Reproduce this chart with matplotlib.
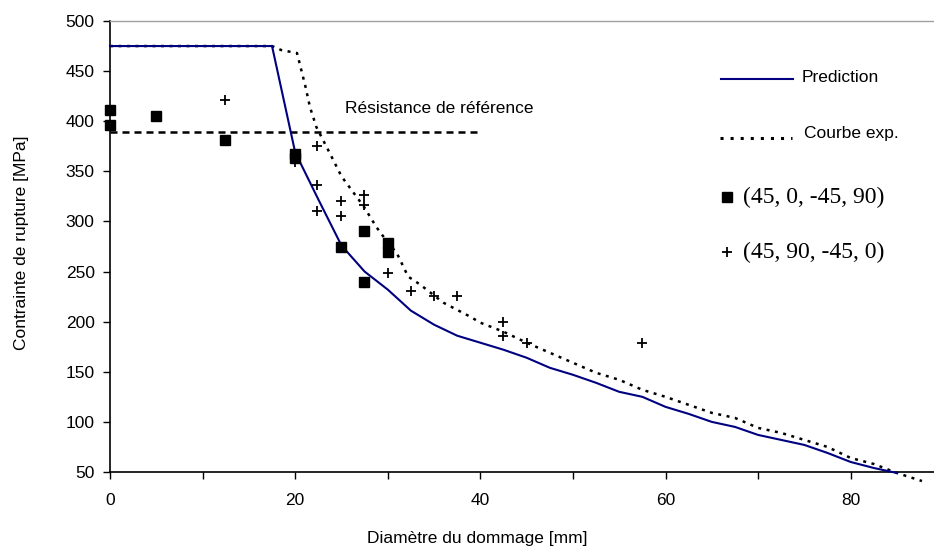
import matplotlib
matplotlib.use("Agg")
import matplotlib.pyplot as plt
from matplotlib.lines import Line2D

plt.rcParams['font.family'] = ['Liberation Sans', 'DejaVu Sans']

# Prediction (model)
pred_x = [0, 17.5, 20, 22.5, 25, 27.5, 30, 32.5, 35, 37.5, 40, 42.5, 45, 47.5, 50,
          52.5, 55, 57.5, 60, 62.5, 65, 67.5, 70, 72.5, 75, 77.5, 80, 82.5, 85]
pred_y = [475, 475, 369, 322, 276, 250, 232, 211, 197, 186, 179, 172, 164, 154, 147,
          139, 130, 125, 115, 108, 100, 95, 87, 82, 77, 69, 60, 54, 49]

# Courbe expérimentale
exp_x = [0, 17.5, 18.5, 20.2, 20.5, 21.1, 21.6, 22.3, 23.8, 25, 26.6, 27.4, 28.8, 30,
         31, 32.2, 33.5, 36, 38.9, 40, 42.5, 45, 47.5, 50, 52.5, 55, 57.5, 60, 62.5,
         65, 67.5, 70, 72.5, 75, 77.5, 80, 82.5, 85, 87.7]
exp_y = [475, 475, 471, 468, 457, 435, 414, 394, 367, 345, 325, 315, 294, 279,
         268, 245, 237, 219, 205, 199, 190, 179, 169, 159, 149, 142, 132, 125, 117,
         109, 104, 94, 89, 82, 75, 64, 58, 49, 41]

# Résistance de référence
ref_x = [0, 40]
ref_y = [389, 389]

# (45, 0, -45, 90)
sq_x = [0, 0, 5, 12.4, 20, 20, 25, 27.4, 27.4, 30, 30]
sq_y = [411, 396, 405, 381, 367, 363, 275, 290, 240, 278, 270]

# (45, 90, -45, 0)
pl_x = [12.4, 22.4, 20, 22.4, 22.4, 25, 25, 27.4, 27.4, 30, 32.5, 35, 37.5,
        42.5, 42.5, 45, 57.5]
pl_y = [421, 375, 359, 336, 310, 320, 305, 326, 316, 249, 231, 226, 226,
        200, 186, 179, 179]

W, H = 934, 556
fig = plt.figure(figsize=(W / 100, H / 100), dpi=100)
fig.patch.set_facecolor('white')
ax = fig.add_axes([110 / W, 1 - 472 / H, 1 - 110 / W, (472 - 21) / H])

ax.plot(exp_x, exp_y, color='black', linewidth=1.8, linestyle=(0, (1.2, 2.2)),
        clip_on=False, zorder=3)
ax.plot(pred_x, pred_y, color='#000080', linewidth=1.5, clip_on=False, zorder=4)
ax.plot(ref_x, ref_y, color='black', linewidth=1.8, linestyle=(0, (2.8, 2.0)), zorder=3)
ax.plot(sq_x, sq_y, linestyle='none', marker='s', markersize=7, color='black',
        clip_on=False, zorder=5)
ax.plot(pl_x, pl_y, linestyle='none', marker='+', markersize=7.5, markeredgewidth=1.3,
        color='black', clip_on=False, zorder=5)

ax.text(25.4, 413, 'Résistance de référence', fontsize=12.5, ha='left', va='center')

ax.set_xlim(0, 89)
ax.set_ylim(50, 500)
ax.set_xticks(range(0, 90, 10))
ax.set_xticklabels([str(v) if v % 20 == 0 else '' for v in range(0, 90, 10)])
ax.set_yticks(range(50, 501, 50))
ax.tick_params(axis='x', direction='out', length=5, width=1, labelsize=12.5, pad=10)
ax.tick_params(axis='y', direction='out', length=5, width=1, labelsize=12.5, pad=6)

ax.spines['right'].set_visible(False)
ax.spines['top'].set_color('#a0a0a0')
ax.spines['top'].set_linewidth(1.0)
ax.spines['left'].set_linewidth(1.2)
ax.spines['bottom'].set_linewidth(1.2)

fig.text(477 / W, 1 - 538 / H, 'Diamètre du dommage [mm]', fontsize=12.5,
         ha='center', va='center')
fig.text(22 / W, 1 - 243 / H, 'Contrainte de rupture [MPa]', fontsize=12.5,
         ha='center', va='center', rotation=90)


def px(x, y):
    return x / W, 1 - y / H


# legend, drawn by hand to keep the Excel layout
(x0, y0), (x1, _) = px(721, 79), px(793, 79)
fig.add_artist(Line2D([x0, x1], [y0, y0], color='#000080', linewidth=1.5))
fig.text(*px(802, 77), 'Prediction', fontsize=12.5, ha='left', va='center')

(x0, y0), (x1, _) = px(720, 138), px(792, 138)
fig.add_artist(Line2D([x0, x1], [y0, y0], color='black', linewidth=2.2,
                      linestyle=(0, (1.0, 2.3))))
fig.text(*px(804, 133), 'Courbe exp.', fontsize=12.5, ha='left', va='center')

fig.add_artist(Line2D([px(727, 197)[0]], [px(727, 197)[1]], marker='s', markersize=7,
                      color='black', linestyle='none'))
fig.text(*px(743, 197), '(45, 0, -45, 90)', fontsize=17, ha='left', va='center',
         family='Liberation Serif')

fig.add_artist(Line2D([px(727, 252)[0]], [px(727, 252)[1]], marker='+', markersize=7.5,
                      markeredgewidth=1.3, color='black', linestyle='none'))
fig.text(*px(743, 252), '(45, 90, -45, 0)', fontsize=17, ha='left', va='center',
         family='Liberation Serif')

fig.savefig('out.png', dpi=100)
